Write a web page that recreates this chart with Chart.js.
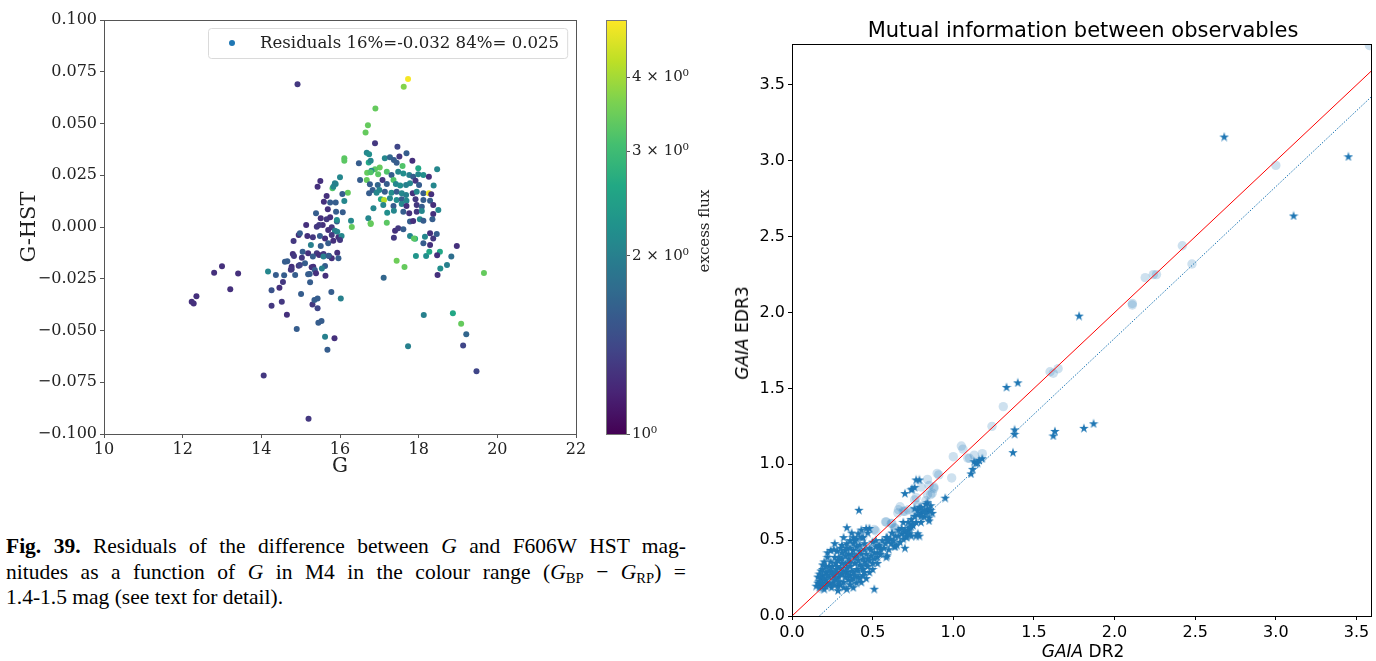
<!DOCTYPE html>
<html>
<head>
<meta charset="utf-8">
<script src="https://cdn.jsdelivr.net/npm/chart.js@4.4.0/dist/chart.umd.min.js"></script>
<style>
 body { margin:0; background:#fff; width:1376px; height:661px; overflow:hidden; position:relative; }
 .box { position:absolute; }
 .lab { position:absolute; font-family:"DejaVu Sans"; font-size:17px; color:#000; white-space:nowrap; transform:translate(-50%,-50%); }
 #caption { position:absolute; left:6px; top:534px; width:680px; font-family:"Liberation Serif"; font-size:21.5px; line-height:25.5px; color:#000; }
 #caption div { white-space:nowrap; }
 #caption .j { text-align:justify; text-align-last:justify; }
 #caption sub { font-size:0.68em; vertical-align:-0.3em; line-height:0; }
</style>
</head>
<body>
<div class="box" style="left:0;top:0;width:600px;height:480px"><canvas id="resid"></canvas></div>
<div class="box" style="left:560px;top:0;width:160px;height:480px"><canvas id="cbar"></canvas></div>
<div class="box" style="left:700px;top:0;width:676px;height:661px"><canvas id="mutual"></canvas></div>

<div class="lab" style="left:1083px;top:30px;font-size:21px">Mutual information between observables</div>
<div class="lab" style="left:1083px;top:651px"><i>GAIA</i> DR2</div>
<div class="lab" style="left:742px;top:333px;transform:translate(-50%,-50%) rotate(-90deg)"><i>GAIA</i> EDR3</div>

<div id="caption">
 <div class="j"><b>Fig. 39.</b> Residuals of the difference between <i>G</i> and F606W HST mag-</div>
 <div class="j">nitudes as a function of <i>G</i> in M4 in the colour range (<i>G</i><sub>BP</sub> − <i>G</i><sub>RP</sub>) =</div>
 <div>1.4-1.5 mag (see text for detail).</div>
</div>

<script>
// ---- left panel: G, G-HST, excess flux ----
const resFarLeft = [
 [12.23,-0.0361,1.25],[12.28,-0.0370,1.25],[12.35,-0.0335,1.25],[12.80,-0.0221,1.25],[13.00,-0.0190,1.25],[13.21,-0.0301,1.25],[13.41,-0.0225,1.25],
 [14.06,-0.0717,1.3],[14.92,0.0690,1.3],[15.20,-0.0926,1.3],
 [14.17,-0.0215,2.1],[14.37,-0.0232,1.6],[14.26,-0.0305,1.5],[14.46,-0.0293,1.25],[14.55,-0.0266,1.3],[14.58,-0.0233,1.6],[14.26,-0.0380,1.3],
 [14.52,-0.0361,1.3],[14.65,-0.0424,1.25],[14.66,-0.0166,1.6],[14.75,-0.0206,1.3],[14.80,-0.0130,1.25],[14.82,-0.0068,1.3],[14.86,-0.0232,1.6],
 [14.90,-0.0493,1.6],[14.95,-0.0039,1.25],[14.95,-0.0187,1.3],[14.60,-0.0168,1.6],[14.77,-0.0192,1.25],[14.77,-0.0204,1.3],[14.83,-0.0140,1.3]
];
const resLeftHump = [
 [15.01,-0.0324,1.6],[15.30,-0.0374,1.3],[15.35,-0.0353,1.6],[15.43,-0.0346,1.6],[15.43,-0.0393,1.4],[15.45,-0.0462,1.6],[15.53,-0.0454,1.6],
 [15.62,-0.0530,2.0],[15.68,-0.0593,1.6],[15.86,-0.0538,1.25],[15.78,-0.0314,1.6],[16.02,-0.0345,2.0],[15.24,-0.0267,1.6],[15.23,-0.0227,1.6],[15.63,-0.0235,1.25],
 [15.50,0.0222,1.25],[15.43,0.0195,1.25],[15.89,0.0208,2.1],[15.81,0.0187,3.2],[16.00,0.0240,2.1],[16.20,0.0166,3.4],[16.06,0.0160,1.6],
 [15.66,0.0150,1.25],[15.59,0.0122,1.25],[15.75,0.0118,1.6],[15.89,0.0118,1.6],[16.11,0.0126,2.1],[15.69,0.0086,1.25],[15.90,0.0074,1.6],
 [16.07,0.0071,1.6],[15.39,0.0066,1.6],[15.51,0.0042,1.25],[15.66,0.0037,1.3],[15.92,0.0026,1.6],[15.75,0.0047,1.25],[16.28,0.0030,2.1],
 [16.30,0.0000,3.4],[15.83,0.0195,2.1],[15.87,0.0211,2.0],
 [15.14,0.0010,1.25],[15.41,0.0001,1.3],[15.56,0.0010,1.25],[15.79,-0.0001,1.3],[15.93,-0.0023,2.1],[15.87,-0.0018,2.0],[15.92,0.0034,2.2],
 [15.70,-0.0014,1.25],[15.47,0.0010,1.3],
 [14.98,-0.0030,1.6],[15.17,-0.0043,1.25],[15.31,-0.0050,1.3],[15.49,-0.0043,1.6],[15.62,-0.0055,1.25],[15.79,-0.0039,1.3],[15.96,-0.0050,1.25],[16.04,-0.0043,2.1],
 [15.26,-0.0087,2.0],[15.51,-0.0092,1.6],[15.70,-0.0079,1.6],[15.83,-0.0066,1.25],[16.00,-0.0063,1.3],
 [15.05,-0.0119,1.6],[15.19,-0.0127,1.25],[15.41,-0.0127,1.3],[15.47,-0.0135,1.25],[15.72,-0.0140,1.3],[15.93,-0.0124,1.25],[15.58,-0.0130,1.3],
 [15.03,-0.0148,1.3],[15.31,-0.0143,1.6],[15.58,-0.0143,2.0],[15.79,-0.0151,1.25],[15.96,-0.0151,1.6],[15.71,-0.0139,1.6],
 [15.28,-0.0195,1.25],[15.62,-0.0188,1.6],[15.11,-0.0175,1.6],[15.32,-0.0192,1.25],[15.36,-0.0208,1.6],[15.54,-0.0200,2.0],[15.19,-0.0228,1.6],
 [15.39,-0.0224,1.25],[14.98,-0.0184,1.4],[16.51,0.0227,1.6]
];
const resRightHump = [
 [16.65,0.0457,3.4],[16.71,0.0491,3.4],[16.90,0.0573,3.4],[17.62,0.0678,3.7],[17.73,0.0715,4.9],[16.89,0.0404,1.3],[17.46,0.0388,1.4],
 [16.68,0.0359,2.1],[16.74,0.0351,2.2],[16.11,0.0332,3.3],[16.11,0.0320,3.3],[16.48,0.0308,1.6],[16.73,0.0311,2.6],[16.78,0.0320,2.1],
 [17.14,0.0332,2.1],[17.27,0.0337,1.7],[17.37,0.0324,1.6],[17.51,0.0340,1.3],[17.69,0.0356,1.6],[17.84,0.0320,1.25],[17.44,0.0310,1.6],
 [17.59,0.0295,3.2],[17.99,0.0284,2.6],[18.47,0.0279,2.1],
 [17.01,0.0288,3.4],[16.89,0.0279,3.3],[16.80,0.0272,2.1],[16.69,0.0262,3.4],[16.78,0.0264,3.2],[16.97,0.0255,3.3],[17.19,0.0267,3.2],
 [17.31,0.0251,1.6],[17.48,0.0267,2.1],[17.61,0.0259,2.2],[17.76,0.0251,2.0],[17.86,0.0243,1.6],[17.99,0.0255,2.1],[18.12,0.0251,2.2],[18.26,0.0243,1.25],
 [16.68,0.0227,3.4],[16.76,0.0206,1.6],[16.96,0.0203,1.7],[17.08,0.0227,1.3],[17.19,0.0208,1.6],[17.36,0.0227,3.2],[17.42,0.0208,2.1],
 [17.53,0.0200,2.2],[17.68,0.0203,2.0],[17.78,0.0211,2.1],[17.92,0.0224,1.3],[18.01,0.0203,1.6],[18.38,0.0200,2.1],[16.83,0.0179,1.6],[17.00,0.0179,2.1],
 [16.74,0.0163,1.6],[16.93,0.0166,2.1],[17.14,0.0170,1.6],[17.31,0.0166,2.2],[17.44,0.0170,1.6],[17.57,0.0163,2.1],[17.68,0.0155,2.0],
 [17.85,0.0163,1.25],[17.95,0.0170,2.1],[18.12,0.0163,1.6],[18.26,0.0163,4.8],[18.32,0.0158,1.25],
 [17.04,0.0134,2.6],[17.12,0.0130,4.2],[17.27,0.0139,2.1],[17.44,0.0130,2.2],[17.57,0.0134,1.6],[17.69,0.0127,2.1],[17.92,0.0134,1.3],
 [18.12,0.0130,1.6],[18.29,0.0127,1.6],
 [17.10,0.0106,2.1],[17.36,0.0101,1.6],[17.57,0.0111,2.1],[17.69,0.0101,1.25],[17.95,0.0106,1.3],[18.08,0.0098,1.6],[18.37,0.0106,1.25],
 [16.85,0.0090,2.1],[17.20,0.0069,2.2],[17.37,0.0079,2.1],[17.61,0.0074,1.6],[17.76,0.0066,1.25],[17.95,0.0074,1.3],[18.08,0.0077,2.1],
 [18.50,0.0082,2.1],[18.37,0.0063,1.25],
 [16.72,0.0042,2.1],[16.78,0.0014,3.4],[17.19,0.0021,3.3],[17.40,-0.0018,1.25],[17.48,-0.0006,1.3],[17.61,-0.0011,1.6],[17.78,0.0026,1.6],
 [17.86,0.0029,1.25],[18.03,0.0037,2.1],[18.12,0.0030,1.6],[18.35,0.0037,1.6],[16.78,0.0018,3.4],
 [17.78,-0.0043,2.1],[17.91,-0.0057,2.7],[18.16,-0.0047,2.1],[18.29,-0.0030,1.25],[18.37,-0.0055,1.3],[18.46,-0.0034,1.6],[18.12,-0.0079,1.6],[18.29,-0.0087,1.25]
];
const resTail = [
 [17.11,-0.0245,1.7],[17.44,-0.0163,3.5],[17.64,-0.0193,3.4],[17.37,-0.0052,1.3],[17.88,-0.0056,3.3],[17.93,-0.0140,2.3],[18.13,-0.0425,2.0],
 [17.73,-0.0576,2.0],[18.19,-0.0140,2.2],[18.27,-0.0119,2.6],[18.48,-0.0232,1.25],[18.55,-0.0201,2.2],[18.54,-0.0119,2.6],[18.72,-0.0184,2.0],
 [18.83,-0.0143,1.8],[18.97,-0.0092,1.25],[18.47,-0.0137,1.25],[19.66,-0.0222,3.4],[18.87,-0.0417,2.6],[19.08,-0.0467,3.4],[19.21,-0.0518,1.7],
 [19.13,-0.0572,1.4],[19.47,-0.0697,1.4]
];
const residLabel = 'Residuals 16%=-0.032 84%= 0.025';
const fluxMin = 1, fluxMax = 5;
const cbarTicks = [1, 2, 3, 4];

// ---- right panel: GAIA DR2 vs GAIA EDR3 ----
const starPts = [
 [2.68,3.16],[3.45,3.03],[3.11,2.64],[1.78,1.98],[1.33,1.51],[1.40,1.54],[1.38,1.23],[1.38,1.20],[1.37,1.08],
 [1.63,1.22],[1.62,1.19],[1.81,1.24],[1.87,1.27],
 [1.18,1.04],[1.16,1.03],[1.14,1.01],[1.13,1.02],[1.12,0.97],[1.11,0.94],[1.15,1.01],
 [0.95,0.78],[0.77,0.90],[0.745,0.84],[0.70,0.81],[0.74,0.835],[0.76,0.85],[0.79,0.90],
 [0.80,0.68],[0.82,0.655],[0.84,0.69],[0.86,0.70],[0.85,0.63],[0.76,0.71],[0.78,0.70],[0.80,0.72],[0.83,0.74],
 [0.79,0.72],[0.81,0.69],[0.84,0.71],[0.85,0.65],[0.80,0.62],
 [0.68,0.545],[0.70,0.555],[0.72,0.57],[0.73,0.58],[0.74,0.59],[0.75,0.60],[0.73,0.545],[0.71,0.52],[0.69,0.51],
 [0.78,0.545],[0.79,0.53],[0.745,0.61],[0.73,0.59],[0.70,0.45],[0.77,0.53],[0.71,0.53],[0.72,0.55],[0.74,0.53],
 [0.64,0.46],[0.59,0.40],[0.54,0.46],[0.59,0.52],[0.51,0.18],[0.585,0.52],[0.595,0.50],[0.615,0.48],[0.635,0.46],
 [0.53,0.39],[0.585,0.39],[0.52,0.46],[0.54,0.47],
 [0.415,0.70],[0.34,0.585],[0.265,0.48],[0.48,0.58],[0.22,0.42],[0.24,0.435],[0.20,0.36],[0.19,0.34],
 [0.31,0.47],[0.34,0.48],[0.36,0.50],[0.38,0.52],[0.41,0.545],[0.43,0.57],[0.46,0.58],
 [0.33,0.435],[0.35,0.41],[0.38,0.435],[0.40,0.46],[0.42,0.47],
 [0.265,0.39],[0.285,0.37],[0.31,0.38],[0.33,0.35],[0.36,0.36],
 [0.18,0.30],[0.21,0.29],[0.245,0.30],[0.275,0.31],[0.31,0.28],[0.34,0.29],[0.37,0.30],[0.40,0.31],[0.42,0.34],
 [0.45,0.36],[0.47,0.38],[0.49,0.40],[0.51,0.42],
 [0.18,0.25],[0.21,0.24],[0.235,0.215],[0.265,0.24],[0.285,0.20],[0.32,0.225],[0.35,0.24],[0.38,0.25],[0.41,0.26],
 [0.44,0.27],[0.46,0.25],[0.43,0.225],
 [0.17,0.19],[0.20,0.18],[0.245,0.19],[0.285,0.17],[0.34,0.18],[0.38,0.19],
 [0.16,0.22],[0.19,0.27],[0.23,0.26],[0.26,0.27],[0.29,0.26],[0.30,0.32],[0.27,0.35],[0.23,0.33],[0.25,0.22],
 [0.30,0.21],[0.36,0.21],[0.40,0.22],[0.44,0.31],[0.47,0.33],[0.39,0.39],[0.43,0.41],[0.45,0.44],[0.48,0.45],
 [0.50,0.49],[0.28,0.43],[0.30,0.45],[0.26,0.44],[0.37,0.55],[0.39,0.50],[0.44,0.52],[0.32,0.52],[0.22,0.39],
 [0.18,0.21],[0.21,0.20],[0.33,0.26],[0.36,0.27],[0.48,0.29],[0.50,0.35],[0.53,0.42],[0.55,0.44],[0.56,0.50],
 [0.62,0.55],[0.66,0.53],[0.67,0.49],[0.65,0.47],
 [0.15,0.20],[0.16,0.26],[0.17,0.23],[0.17,0.28],[0.19,0.22],[0.19,0.31],[0.20,0.25],[0.21,0.33],[0.22,0.27],
 [0.22,0.22],[0.23,0.30],[0.24,0.36],[0.25,0.28],[0.25,0.33],[0.26,0.21],[0.27,0.25],[0.27,0.29],[0.28,0.33],
 [0.29,0.23],[0.29,0.39],[0.30,0.28],[0.31,0.35],[0.31,0.42],[0.32,0.30],[0.32,0.19],[0.33,0.40],[0.34,0.32],
 [0.34,0.45],[0.35,0.27],[0.35,0.38],[0.36,0.33],[0.36,0.45],[0.37,0.24],[0.37,0.41],[0.38,0.29],[0.38,0.48],
 [0.39,0.35],[0.39,0.27],[0.40,0.40],[0.40,0.51],[0.41,0.30],[0.41,0.37],[0.42,0.43],[0.42,0.25],[0.43,0.33],
 [0.43,0.52],[0.44,0.38],[0.45,0.29],[0.45,0.48],[0.46,0.34],[0.46,0.41],[0.47,0.55],[0.48,0.37],[0.49,0.44],
 [0.50,0.31],[0.51,0.38],[0.52,0.50],[0.53,0.35],[0.55,0.41],[0.57,0.45],[0.58,0.48],[0.60,0.44],[0.61,0.51],
 [0.63,0.50],[0.64,0.53],[0.66,0.57],[0.68,0.58],[0.69,0.62],[0.70,0.57],[0.72,0.62],[0.74,0.64],[0.76,0.66],
 [0.77,0.62],[0.78,0.67],[0.80,0.66],[0.82,0.70],[0.83,0.68],[0.84,0.75],[0.86,0.73],[0.87,0.68]
];
const circlePts = [
 [3.58,3.76],[3.00,2.97],[2.42,2.44],[2.48,2.32],[2.19,2.23],[2.24,2.25],[2.26,2.25],[2.11,2.06],[2.11,2.05],
 [1.60,1.61],[1.62,1.60],[1.65,1.63],[1.31,1.38],[1.24,1.25],[1.05,1.12],[1.06,1.10],[1.09,1.04],[1.18,1.07],
 [1.00,1.05],[1.10,1.04],[1.13,1.06],[0.90,0.94],[0.91,0.93],[0.84,0.90],[0.99,0.91],[0.80,0.85],[0.88,0.85],
 [0.86,0.80],[0.83,0.76],[0.77,0.78],[0.67,0.72],[0.66,0.70],[0.69,0.69],[0.58,0.62],[0.62,0.61],[0.64,0.58],
 [0.52,0.56],[0.44,0.52],[0.37,0.36],[0.32,0.32],[0.19,0.19],[0.18,0.18],[0.585,0.62],[0.615,0.61],[0.635,0.58],
 [0.51,0.57],[0.656,0.68],[0.70,0.69],[0.72,0.70],[0.76,0.765],[0.78,0.73],[0.84,0.80],[0.87,0.81],[0.88,0.84],
 [0.85,0.86],[0.41,0.45],[0.38,0.36],[0.18,0.23],[0.75,0.69]
];
const oneToOne = [[0, 0], [3.6, 3.6]];
const offsetFit = [[0.17, 0], [3.6, 3.43]];

// viridis lookup
const viridisStops = ['#440154','#482475','#414487','#355f8d','#2a788e','#21918c','#22a884','#44bf70','#7ad151','#bddf26','#fde725'];
function hexRgb(h) { return [1, 3, 5].map(i => parseInt(h.substr(i, 2), 16)); }
function viridis(t) {
    t = Math.max(0, Math.min(1, t));
    const p = t * 10, i = Math.min(9, Math.floor(p)), f = p - i;
    const a = hexRgb(viridisStops[i]), b = hexRgb(viridisStops[i + 1]);
    return 'rgb(' + a.map((v, k) => Math.round(v + (b[k] - v) * f)).join(',') + ')';
}
function fluxColor(v) { return viridis(Math.log(v / fluxMin) / Math.log(fluxMax / fluxMin)); }

const frame = {
    id: 'frame',
    afterDraw(chart, args, opts) {
        const a = chart.chartArea, ctx = chart.ctx;
        ctx.save();
        ctx.strokeStyle = opts.color || '#000';
        ctx.lineWidth = 1;
        ctx.strokeRect(Math.round(a.left) + 0.5, Math.round(a.top) + 0.5, Math.round(a.right - a.left), Math.round(a.bottom - a.top));
        ctx.restore();
    }
};

const legendBox = {
    id: 'legendBox',
    afterDatasetsDraw(chart) {
        const {ctx, chartArea: a} = chart;
        const label = chart.data.datasets[0].label;
        ctx.save();
        ctx.font = '16.6px "DejaVu Serif"';
        const tw = ctx.measureText(label).width;
        const w = tw + 60, h = 30, x = Math.round(a.right - 9 - w), y = Math.round(a.top + 8);
        ctx.beginPath();
        ctx.roundRect(x + 0.5, y + 0.5, w, h, 3);
        ctx.fillStyle = 'rgba(255,255,255,0.8)';
        ctx.fill();
        ctx.strokeStyle = '#dadada';
        ctx.lineWidth = 1;
        ctx.stroke();
        ctx.fillStyle = '#1f77b4';
        ctx.beginPath();
        ctx.arc(x + 24, y + h / 2, 3, 0, Math.PI * 2);
        ctx.fill();
        ctx.fillStyle = '#222';
        ctx.textBaseline = 'middle';
        ctx.fillText(label, x + 52, y + h / 2 + 1);
        ctx.restore();
    }
};

const serif = size => ({family: 'DejaVu Serif', size: size});
const sans = size => ({family: 'DejaVu Sans', size: size});

// left scatter
const allResid = resFarLeft.concat(resLeftHump, resRightHump, resTail);
new Chart(document.getElementById('resid'), {
    type: 'scatter',
    data: {
        datasets: [{
            label: residLabel,
            data: allResid.map(p => ({x: p[0], y: p[1]})),
            pointBackgroundColor: allResid.map(p => fluxColor(p[2])),
            pointBorderWidth: 0,
            pointRadius: 3,
            pointHoverRadius: 3
        }]
    },
    options: {
        responsive: true, maintainAspectRatio: false, animation: false,
        layout: {padding: {top: 20, right: 24, left: 0, bottom: 0}},
        plugins: {legend: {display: false}, tooltip: {enabled: false}, frame: {color: '#555'}},
        scales: {
            x: {
                type: 'linear', min: 10, max: 22,
                ticks: {stepSize: 2, font: serif(16), color: '#222', padding: 2, maxRotation: 0},
                grid: {drawOnChartArea: false, tickLength: 4, color: '#555'},
                border: {color: '#555'},
                title: {display: true, text: 'G', font: serif(20), color: '#222', padding: {top: 0, bottom: 1}},
                afterFit(s) { s.height = 46; }
            },
            y: {
                type: 'linear', min: -0.1, max: 0.1,
                ticks: {stepSize: 0.025, font: serif(16), color: '#222', padding: 3,
                    callback: v => (v < -1e-9 ? '\u2212' : '') + Math.abs(v).toFixed(3)},
                grid: {drawOnChartArea: false, tickLength: 4, color: '#555'},
                border: {color: '#555'},
                title: {display: true, text: 'G-HST', font: serif(21), color: '#222', padding: {top: 17, bottom: 0}},
                afterFit(s) { s.width = 104; }
            }
        }
    },
    plugins: [frame, legendBox]
});

// colour bar
const cbarFill = {
    id: 'cbarFill',
    beforeDatasetsDraw(chart) {
        const {ctx, chartArea: a} = chart;
        const g = ctx.createLinearGradient(0, a.bottom, 0, a.top);
        for (let i = 0; i <= 40; i++) g.addColorStop(i / 40, viridis(i / 40));
        ctx.save();
        ctx.fillStyle = g;
        ctx.fillRect(a.left, a.top, a.right - a.left, a.bottom - a.top);
        ctx.restore();
    },
    afterDraw(chart) {
        const {ctx} = chart;
        ctx.save();
        ctx.translate(145, 231);
        ctx.rotate(-Math.PI / 2);
        ctx.font = '15px "DejaVu Serif"';
        ctx.fillStyle = '#222';
        ctx.textAlign = 'center';
        ctx.textBaseline = 'middle';
        ctx.fillText('excess flux', 0, 0);
        ctx.restore();
    }
};
new Chart(document.getElementById('cbar'), {
    type: 'scatter',
    data: {datasets: []},
    options: {
        responsive: true, maintainAspectRatio: false, animation: false,
        layout: {padding: {top: 20, right: 0, left: 46, bottom: 46}},
        plugins: {legend: {display: false}, tooltip: {enabled: false}, frame: {color: '#777'}},
        scales: {
            x: {display: false, min: 0, max: 1},
            y: {
                type: 'logarithmic', position: 'right', min: fluxMin, max: fluxMax,
                afterBuildTicks(s) { s.ticks = cbarTicks.map(v => ({value: v})); },
                ticks: {font: serif(15), color: '#222', padding: 2,
                    callback: v => v === 1 ? '10\u2070' : v + ' \u00d7 10\u2070'},
                grid: {drawOnChartArea: false, tickLength: 4, color: '#555'},
                border: {display: false},
                afterFit(s) { s.width = 94; }
            }
        }
    },
    plugins: [cbarFill, frame]
});

// right scatter
function starMarker(size, color) {
    const c = document.createElement('canvas');
    c.width = c.height = size;
    const g = c.getContext('2d');
    g.fillStyle = color;
    g.beginPath();
    for (let i = 0; i < 10; i++) {
        const r = i % 2 ? size * 0.19 : size * 0.5;
        const ang = -Math.PI / 2 + i * Math.PI / 5;
        g.lineTo(size / 2 + r * Math.cos(ang), size / 2 + size * 0.06 + r * Math.sin(ang));
    }
    g.closePath();
    g.fill();
    return c;
}
const starImg = starMarker(10, '#1f77b4');
const toXY = arr => arr.map(p => ({x: p[0], y: p[1]}));

new Chart(document.getElementById('mutual'), {
    type: 'scatter',
    data: {
        datasets: [
            {data: toXY(oneToOne), showLine: true, borderColor: '#ff0000', borderWidth: 1, pointRadius: 0},
            {data: toXY(offsetFit), showLine: true, borderColor: '#1f77b4', borderWidth: 1, borderDash: [1.5, 1.5], pointRadius: 0},
            {data: toXY(circlePts), pointRadius: 4.7, pointHoverRadius: 4.7, pointBorderWidth: 0,
             pointBackgroundColor: 'rgba(31,119,180,0.22)'},
            {data: toXY(starPts), pointStyle: starImg}
        ]
    },
    options: {
        responsive: true, maintainAspectRatio: false, animation: false,
        layout: {padding: {top: 44, right: 2, left: 0, bottom: 0}},
        plugins: {legend: {display: false}, tooltip: {enabled: false}, frame: {color: '#000'}},
        scales: {
            x: {
                type: 'linear', min: 0, max: 3.59,
                ticks: {stepSize: 0.5, includeBounds: false, font: sans(16), color: '#000', padding: 3, maxRotation: 0,
                    callback: v => v.toFixed(1)},
                grid: {drawOnChartArea: false, tickLength: 4, color: '#000'},
                border: {color: '#000'},
                afterFit(s) { s.height = 45; }
            },
            y: {
                type: 'linear', min: 0, max: 3.77,
                ticks: {stepSize: 0.5, includeBounds: false, font: sans(16), color: '#000', padding: 3,
                    callback: v => v.toFixed(1)},
                grid: {drawOnChartArea: false, tickLength: 4, color: '#000'},
                border: {color: '#000'},
                afterFit(s) { s.width = 92; }
            }
        }
    },
    plugins: [frame]
});
</script>
</body>
</html>
